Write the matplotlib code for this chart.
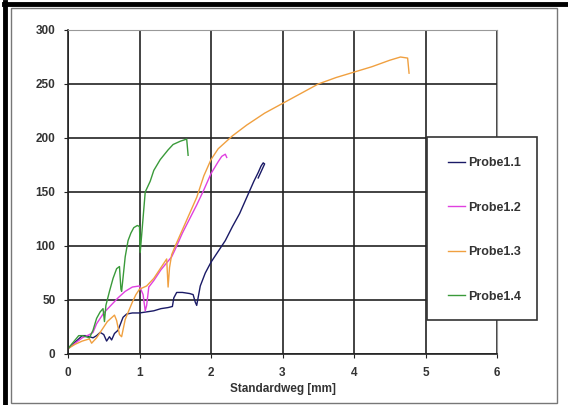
import matplotlib.pyplot as plt
from matplotlib.patches import Rectangle
from matplotlib.lines import Line2D

plt.rcParams['font.family'] = ['Liberation Sans', 'DejaVu Sans']

# Probe1.1
x1 = [0, 0.05, 0.1, 0.15, 0.2, 0.25, 0.3, 0.35, 0.4, 0.45, 0.5, 0.54, 0.58, 0.61, 0.65, 0.7,
      0.77, 0.82, 0.9, 1.0, 1.1, 1.2, 1.3, 1.4, 1.46, 1.48, 1.52, 1.6, 1.7, 1.75, 1.78, 1.8,
      1.85, 1.92, 2.0, 2.1, 2.2, 2.3, 2.4, 2.5, 2.6, 2.66, 2.7, 2.73, 2.75, 2.66]
y1 = [5, 8, 11, 14, 17, 17, 16, 15, 17, 20, 18, 12, 16, 13, 19, 22,
      34, 37, 38, 38, 39, 40, 42, 43, 44, 52, 57, 57, 56, 55, 48, 45,
      63, 75, 85, 95, 105, 118, 130, 145, 160, 168, 174, 177, 176, 163]

# Probe1.2
x2 = [0, 0.1, 0.2, 0.3, 0.35, 0.4, 0.45, 0.5, 0.6, 0.7, 0.8, 0.9, 1.0, 1.05, 1.08, 1.1,
      1.13, 1.2, 1.3, 1.4, 1.45, 1.5, 1.6, 1.7, 1.8, 1.9, 2.0, 2.1, 2.15, 2.2, 2.22]
y2 = [5, 10, 15, 18, 20, 28, 33, 38, 45, 52, 58, 62, 63, 55, 40, 45,
      62, 68, 78, 86, 90, 97, 112, 125, 138, 152, 167, 178, 183, 185, 182]

# Probe1.3
x3 = [0, 0.1, 0.2, 0.3, 0.33, 0.4, 0.45, 0.5, 0.55, 0.6, 0.65, 0.68, 0.72, 0.75, 0.8, 0.85,
      0.9, 0.95, 1.0, 1.1, 1.2, 1.3, 1.38, 1.4, 1.42, 1.45, 1.5, 1.6, 1.7, 1.8, 1.9, 2.0,
      2.1, 2.3, 2.5, 2.75, 3.0, 3.25, 3.5, 3.75, 4.0, 4.25, 4.5, 4.65, 4.75, 4.77]
y3 = [5, 9, 12, 14, 10, 15, 20, 25, 30, 33, 36, 31, 18, 16, 32, 40,
      48, 55, 60, 63, 70, 80, 88, 62, 80, 92, 100, 115, 130, 145, 165, 180,
      190, 202, 212, 223, 232, 241, 250, 256, 261, 266, 272, 275, 274, 260]

# Probe1.4
x4 = [0, 0.05, 0.1, 0.15, 0.2, 0.25, 0.3, 0.35, 0.4, 0.45, 0.49, 0.51, 0.53, 0.58, 0.63, 0.68,
      0.72, 0.74, 0.75, 0.8, 0.84, 0.88, 0.92, 0.97, 1.0, 1.01, 1.03, 1.08, 1.15, 1.2, 1.29,
      1.4, 1.47, 1.57, 1.66, 1.68]
y4 = [5, 9, 13, 17, 17, 16, 15, 22, 33, 39, 42, 30, 45, 58, 70, 79,
      81, 60, 58, 90, 105, 112, 117, 119, 118, 94, 110, 150, 160, 170, 180,
      189, 194, 197, 199, 184]

series = [(x1, y1, 'Probe1.1', '#1a1a66'),
          (x2, y2, 'Probe1.2', '#e040e0'),
          (x3, y3, 'Probe1.3', '#f0a040'),
          (x4, y4, 'Probe1.4', '#3a9a3a')]

fig = plt.figure(figsize=(5.68, 4.05), dpi=100)

# outer frame: thick black top/left, thin gray inner box
W, H = 568, 405
fig.add_artist(Line2D([4 / W, 1], [1 - 3.5 / H, 1 - 3.5 / H], transform=fig.transFigure,
                      color='black', linewidth=3.5))
fig.add_artist(Line2D([4.5 / W, 4.5 / W], [0, 1 - 2 / H], transform=fig.transFigure,
                      color='black', linewidth=3.5))
fig.patches.append(Rectangle((11 / W, 2 / H), 546 / W, 395 / H, transform=fig.transFigure,
                             fill=False, edgecolor='#777777', linewidth=1))

ax = fig.add_axes([68 / W, 51 / H, 429 / W, 324 / H])
for x, y, lab, c in series:
    ax.plot(x, y, color=c, linewidth=1, label=lab)

ax.set_xlim(0, 6)
ax.set_ylim(0, 300)
ax.set_xticks(range(0, 7))
ax.set_yticks(range(0, 301, 50))
ax.grid(True, color='#222222', linewidth=1.2)
for s in ['top', 'right']:
    ax.spines[s].set_color('#999999')
for s in ['left', 'bottom']:
    ax.spines[s].set_color('#222222')
    ax.spines[s].set_linewidth(1.2)
ax.tick_params(length=3, color='#222222', labelsize=8.5, labelcolor='#333333', pad=6)
for t in ax.get_xticklabels() + ax.get_yticklabels():
    t.set_fontweight('bold')
ax.set_xlabel('Standardweg [mm]', fontsize=8.5, fontweight='bold', color='#333333', labelpad=3)

# legend box
fig.patches.append(Rectangle((427 / W, 85 / H), 110 / W, 183 / H, transform=fig.transFigure,
                             facecolor='white', edgecolor='#333333', linewidth=1.2, zorder=4))
handles = [Line2D([], [], color=c, linewidth=1) for _, _, _, c in series]
labels = [lab for _, _, lab, _ in series]
leg = fig.legend(handles, labels, loc='center left', bbox_to_anchor=(437 / W, 175 / H),
                 frameon=False, handlelength=1.3, handletextpad=0.3, labelspacing=2.6,
                 prop={'size': 9, 'weight': 'bold'})
for t in leg.get_texts():
    t.set_color('#333333')

fig.savefig('out.png', dpi=100)
